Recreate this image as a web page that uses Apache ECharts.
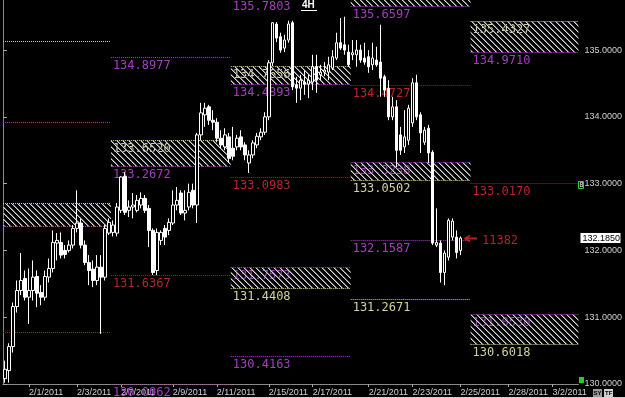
<!DOCTYPE html>
<html><head><meta charset="utf-8">
<style>html,body{margin:0;padding:0;background:#000;}#c{width:625px;height:398px;}</style>
<script src="https://cdn.jsdelivr.net/npm/echarts@6/dist/echarts.min.js"></script>
</head><body><div id="c"></div>
<script>
// ---- data (4H bars) ----
const opens = [130.08,130.20,130.56,131.16,131.40,131.58,131.30,131.40,131.61,131.37,
131.30,131.60,131.73,132.11,132.12,132.00,132.00,132.08,132.33,132.41,
132.08,131.82,131.72,131.55,131.75,131.60,132.26,132.27,132.26,132.60,
133.11,132.60,132.65,132.60,132.68,132.78,132.63,132.30,131.70,132.15,
132.33,132.30,132.41,132.68,132.86,132.56,132.65,132.90,132.68,133.73,
134.03,134.15,133.95,133.92,133.68,133.55,133.70,133.53,133.55,133.70,
133.58,133.31,133.43,133.58,133.70,133.77,134.00,134.81,135.39,135.20,
135.03,135.15,135.41,134.48,134.43,134.52,134.49,134.52,134.75,134.63,
134.67,134.67,134.73,134.88,135.11,135.08,134.97,134.93,134.93,135.00,
134.88,134.90,134.78,134.85,134.82,134.60,134.43,134.00,134.15,133.73,
133.55,133.65,133.91,134.51,134.03,133.62,133.83,133.47,132.08,132.11,
131.67,131.90,132.20,132.20,132.00];
const closes = [130.22,130.56,131.16,131.40,131.55,131.30,131.40,131.60,131.36,131.30,
131.61,131.73,132.12,132.15,131.93,131.94,132.08,132.33,132.41,132.08,
131.82,131.70,131.55,131.75,131.60,132.33,132.42,132.38,132.65,133.10,
132.57,132.65,132.68,132.75,132.78,132.60,132.30,131.67,132.27,132.27,
132.20,132.42,132.68,132.75,132.56,132.60,132.87,132.68,133.73,134.06,
134.13,133.95,133.92,133.68,133.58,133.73,133.38,133.41,133.68,133.55,
133.43,133.43,133.61,133.71,133.77,134.00,134.81,135.41,135.18,135.00,
135.15,135.39,134.45,134.43,134.55,134.49,134.55,134.75,134.55,134.67,
134.70,134.78,134.90,135.11,135.03,135.00,134.78,134.96,135.00,134.85,
134.82,134.75,134.88,134.78,134.58,134.40,134.00,134.15,133.50,133.50,
133.70,134.13,134.51,134.00,133.76,133.80,133.46,132.11,132.12,131.67,
131.96,132.45,132.44,131.97,132.185];
const lows = [130.02,130.02,130.47,131.07,131.33,131.25,130.90,131.25,131.15,131.18,
131.25,131.52,131.67,131.85,131.88,131.88,131.97,132.03,132.27,132.03,
131.78,131.48,131.45,131.48,130.75,131.55,132.23,132.21,132.21,132.56,
132.53,132.50,132.48,132.57,132.63,132.56,132.05,131.63,131.63,132.08,
132.08,132.23,132.38,132.60,132.53,132.45,132.60,132.63,132.41,133.65,
133.85,133.88,133.80,133.62,133.53,133.50,133.32,133.35,133.50,133.50,
133.35,133.16,133.38,133.53,133.65,133.73,133.95,134.76,135.12,134.96,
134.97,135.11,134.40,134.21,134.25,134.33,134.28,134.40,134.36,134.55,
134.61,134.55,134.70,134.85,135.00,134.93,134.75,134.85,134.75,134.81,
134.78,134.66,134.70,134.75,134.30,134.30,133.95,133.95,133.25,133.43,
133.46,133.58,133.85,133.95,133.46,133.58,133.31,132.08,132.05,131.52,
131.48,131.85,132.15,131.88,131.93];
const highs = [130.35,130.61,131.22,131.55,131.96,131.70,131.73,131.85,131.70,131.48,
131.70,131.88,132.30,132.26,132.27,132.08,132.15,132.38,132.90,132.48,
132.15,131.93,131.85,131.93,131.93,132.38,132.48,132.45,132.71,133.11,
133.17,132.75,132.86,132.83,132.87,132.83,132.68,132.33,132.33,132.30,
132.38,132.48,132.90,132.95,132.90,132.90,133.00,133.00,133.76,134.21,
134.21,134.18,134.10,133.98,133.80,133.83,133.76,133.85,133.73,133.80,
133.62,133.50,133.65,133.76,133.83,134.07,134.85,135.42,135.42,135.26,
135.23,135.44,135.44,134.60,134.63,134.70,134.63,134.93,134.93,134.78,
134.82,134.90,135.00,135.26,135.48,135.50,135.08,135.15,135.15,135.08,
135.11,135.00,135.11,135.05,135.38,134.63,134.55,134.30,134.25,133.85,
134.10,134.18,134.58,134.63,134.07,133.85,133.88,133.50,132.63,132.15,
132.00,132.48,132.48,132.30,132.21];

const barCount = 144;
const xTickBars = [6,18,29,42,53,66,77,91,102,114,126,137];
const xTickLabels = ['2/1/2011','2/3/2011','2/7/2011','2/9/2011','2/11/2011','2/15/2011','2/17/2011','2/21/2011','2/23/2011','2/25/2011','2/28/2011','3/2/2011'];
const yTicks = [130,131,132,133,134,135];
const yMin = 130, yMax = 135.75;
const lastPrice = 132.185;
const timerText = '11382';
const timeframeText = '4H';

// level lines: [fromBar, toBar, price, kind(0 purple,1 red,2 yellow), labelled]
const levelLines = [
  [0,27,135.135,2,0],
  [0,27,133.93,0,0],
  [0,27,130.78,1,0],
  [27,57,134.8977,0,1],
  [27,57,131.6367,1,1],
  [27,57,130.0062,0,1],
  [57,87,135.7803,0,1],
  [57,87,133.0983,1,1],
  [57,87,130.4163,0,1],
  [87,117,134.4727,1,1],
  [87,117,132.1587,0,1],
  [87,117,131.2671,2,1],
  [117,144,133.0170,1,1]
];
// zones: [fromBar, toBar, top, bottom, topKind, bottomKind, labelled]
const zones = [
  [0,27,132.71,132.36,2,0,0],
  [27,57,133.6520,133.2672,2,0,1],
  [57,87,134.7656,134.4893,2,0,1],
  [57,87,131.7573,131.4408,0,2,1],
  [87,117,136.00,135.6597,2,0,1],
  [87,117,133.3238,133.0502,0,2,1],
  [117,144,135.4327,134.9710,2,0,1],
  [117,144,131.0530,130.6018,0,2,1]
];

// ---- styles ----
const lineColors = ['#a43cc4','#a82020','#cfcf8c'];
const textColors = ['#a040bc','#b82626','#d2d29c'];
const labelFont = '12px "DejaVu Sans Mono", monospace';
const axisFont = '"Liberation Sans Narrow", "Arial Narrow", "Liberation Sans", sans-serif';

const hc = document.createElement('canvas'); hc.width = 6; hc.height = 6;
const g = hc.getContext('2d');
for (let i = 0; i < 6; i++) { g.fillStyle = '#d8d8d8'; g.fillRect(i, i, 1, 1); g.fillStyle = '#6a6a6a'; g.fillRect((i + 1) % 6, i, 1, 1); }
const hatch = { image: hc, repeat: 'repeat' };

const categories = [];
for (let i = 0; i < barCount; i++) { const k = xTickBars.indexOf(i); categories.push(k >= 0 ? xTickLabels[k] : ''); }
const candleData = opens.map((o, i) => [o, closes[i], lows[i], highs[i]]);

function hLine(x1, x2, y, color) {
  return { type: 'line', shape: { x1: x1, y1: y, x2: x2, y2: y }, style: { stroke: color, lineWidth: 1, lineDash: [1, 1] } };
}
function label(x, y, price, kind) {
  return { type: 'text', x: x + 2, y: y + 2, style: { text: price.toFixed(4), fill: textColors[kind], font: labelFont, align: 'left', verticalAlign: 'top' } };
}
function renderLevel(params, api) {
  const L = levelLines[params.dataIndex];
  const a = api.coord([L[0], L[2]]), b = api.coord([L[1], L[2]]);
  const y = Math.round(a[1]) + 0.5;
  const ch = [hLine(a[0], b[0], y, lineColors[L[3]])];
  if (L[4]) ch.push(label(a[0], y, L[2], L[3]));
  return { type: 'group', children: ch };
}
function renderZone(params, api) {
  const Z = zones[params.dataIndex];
  const a = api.coord([Z[0], Z[2]]), b = api.coord([Z[1], Z[3]]);
  const yt = Math.round(a[1]) + 0.5, yb = Math.round(b[1]) + 0.5;
  const ch = [];
  if (Z[6] && Z[2] < yMax) ch.push(label(a[0], yt, Z[2], Z[4]));
  ch.push({ type: 'rect', shape: { x: a[0], y: yt, width: b[0] - a[0], height: yb - yt }, style: { fill: hatch } });
  ch.push(hLine(a[0], b[0], yt, lineColors[Z[4]]));
  ch.push(hLine(a[0], b[0], yb, lineColors[Z[5]]));
  if (Z[6]) ch.push(label(a[0], yb, Z[3], Z[5]));
  return { type: 'group', children: ch };
}
function renderTimer(params, api) {
  const p = api.coord([api.value(0), api.value(1)]);
  const edge = api.coord([barCount, api.value(1)]);
  const x = p[0], y = Math.round(p[1]) + 0.5;
  return { type: 'group', children: [
    { type: 'polyline', shape: { points: [[x + 5, y - 3], [x, y], [x + 5, y + 3]] }, style: { stroke: '#b02424', lineWidth: 1.5, fill: null } },
    { type: 'line', shape: { x1: x, y1: y, x2: x + 12, y2: y }, style: { stroke: '#b02424', lineWidth: 2 } },
    { type: 'text', x: x + 17, y: y + 2, style: { text: timerText, fill: '#b02424', font: labelFont, align: 'left', verticalAlign: 'middle' } },
    { type: 'rect', shape: { x: edge[0] + 2, y: y - 5.5, width: 40, height: 10 }, style: { fill: '#fff' } },
    { type: 'text', x: edge[0] + 4, y: y, style: { text: lastPrice.toFixed(4), fill: '#000', font: '9px ' + axisFont, align: 'left', verticalAlign: 'middle' } }
  ] };
}

const chart = echarts.init(document.getElementById('c'), null, { renderer: 'canvas' });
chart.setOption({
  backgroundColor: '#000',
  animation: false,
  grid: { left: 3, right: 41, top: 0, bottom: 14, containLabel: false },
  xAxis: [
    { type: 'category', data: categories, boundaryGap: true,
      axisLine: { show: true, lineStyle: { color: '#8a8a8a' } },
      axisTick: { show: true, alignWithLabel: true, interval: (i) => xTickBars.indexOf(i) >= 0, length: 3, lineStyle: { color: '#aaa' } },
      axisLabel: { interval: (i) => xTickBars.indexOf(i) >= 0, align: 'left', margin: 4, color: '#d0d0d0', fontSize: 9,
        fontFamily: axisFont, hideOverlap: false },
      splitLine: { show: false } },
    { type: 'value', min: 0, max: barCount, show: false }
  ],
  yAxis: [
    { type: 'value', position: 'right', min: yMin, max: yMax, interval: 1,
      axisLine: { show: true, lineStyle: { color: '#8a8a8a' } },
      axisTick: { show: true, length: 4, customValues: yTicks, lineStyle: { color: '#aaa' } },
      axisLabel: { customValues: yTicks, formatter: (v) => Number.isInteger(v) ? v.toFixed(4) : '', color: '#d0d0d0', fontSize: 9, margin: 6,
        fontFamily: axisFont },
      splitLine: { show: false } },
    { type: 'value', position: 'left', min: yMin, max: yMax,
      axisLine: { show: true, lineStyle: { color: '#8a8a8a' } }, axisTick: { show: false }, axisLabel: { show: false }, splitLine: { show: false } }
  ],
  series: [
    { type: 'custom', xAxisIndex: 1, yAxisIndex: 0, z: 2, silent: true, clip: false, renderItem: renderZone,
      data: zones.map(z => [z[0], z[3]]) },
    { type: 'custom', xAxisIndex: 1, yAxisIndex: 0, z: 2, silent: true, clip: false, renderItem: renderLevel,
      data: levelLines.map(l => [l[0], l[2]]) },
    { type: 'candlestick', xAxisIndex: 0, yAxisIndex: 0, z: 5, data: candleData, barWidth: 3,
      itemStyle: { color: '#000', color0: '#fff', borderColor: '#fff', borderColor0: '#fff', borderWidth: 1 } },
    { type: 'custom', xAxisIndex: 1, yAxisIndex: 0, z: 6, silent: true, clip: false, renderItem: renderTimer,
      data: [[opens.length + 0.6, lastPrice]] }
  ],
  graphic: [
    { type: 'text', left: 302, top: 0, style: { text: timeframeText, fill: '#fff', font: 'bold 10px "Liberation Sans", sans-serif' } },
    { type: 'line', shape: { x1: 301, y1: 10.5, x2: 317, y2: 10.5 }, style: { stroke: '#fff', lineWidth: 1 } },
    { type: 'rect', shape: { x: 579, y: 377, width: 5, height: 6 }, style: { fill: '#1ed21e' } },
    { type: 'rect', shape: { x: 578.5, y: 181.5, width: 5, height: 7 }, style: { fill: '#000', stroke: '#3cc83c' } },
    { type: 'text', x: 579.5, y: 182, style: { text: '8', fill: '#fff', font: '7px sans-serif' } },
    { type: 'rect', shape: { x: 593, y: 389, width: 9, height: 8 }, style: { fill: '#9a9a9a' } },
    { type: 'text', x: 593.5, y: 390, style: { text: 'SY', fill: '#000', font: 'bold 6px sans-serif' } },
    { type: 'rect', shape: { x: 604, y: 389, width: 9, height: 8 }, style: { fill: '#d0d0d0' } },
    { type: 'text', x: 605, y: 390, style: { text: 'TF', fill: '#000', font: 'bold 6px sans-serif' } },
    { type: 'line', shape: { x1: 0, y1: 397.5, x2: 625, y2: 397.5 }, style: { stroke: '#cfcfcf', lineWidth: 1 } }
  ]
});
</script></body></html>
